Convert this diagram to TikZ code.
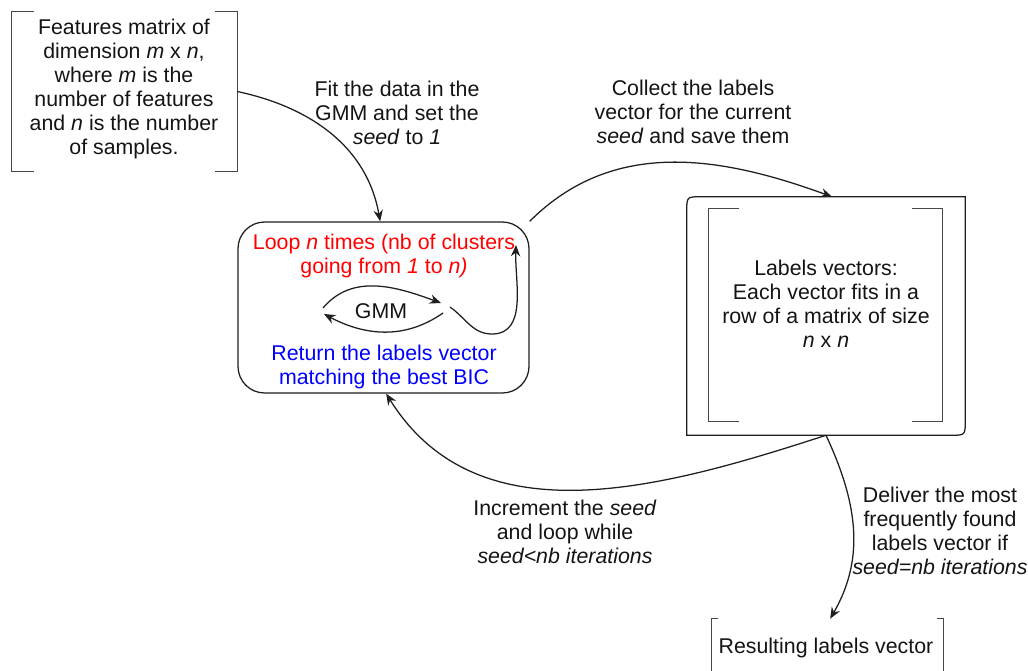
\documentclass[tikz,border=0pt]{standalone}
\usepackage{fontspec}
\setmainfont{Liberation Sans}
\usetikzlibrary{arrows.meta,fit}
\begin{document}
\begin{tikzpicture}[x=0.75pt,y=0.75pt,
  txt/.style={font=\fontsize{16}{18}\selectfont, align=center, inner sep=0pt, text=black!92},
  arr/.style={-{Stealth[length=8.5pt,width=7pt]}, line width=0.95pt, draw=black!88},
  brk/.style={line width=1pt, draw=black!72},
  area/.style={inner sep=0pt}]
\useasboundingbox (0,0) rectangle (1028,-671);

% Features matrix
\node[area, fit={(12,-12)(237,-171)}] (f) {};
\node[txt] (ftext) at (124,-89) {Features matrix of\\dimension \textit{m} x \textit{n},\\where \textit{m} is the\\number of features\\and \textit{n} is the number\\of samples.};
\draw[brk] ([xshift=17pt]f.north west) -- (f.north west) -- (f.south west) -- ([xshift=17pt]f.south west);
\draw[brk] ([xshift=-17pt]f.north east) -- (f.north east) -- (f.south east) -- ([xshift=-17pt]f.south east);

% Loop box
\node[area, fit={(238,-222)(529,-393)}, draw, rounded corners=20pt, line width=0.95pt, draw=black!88] (loop) {};
\node[txt, text=red] (lt) at (384,-256) {Loop \textit{n} times (nb of clusters\\going from \textit{1} to \textit{n)}};
\node[txt] (gmm) at (381,-311) {GMM};
\node[txt, text=blue] (rt) at (384,-367) {Return the labels vector\\matching the best BIC};
\coordinate (gA) at (323,-308);
\coordinate (gB) at (441,-303);
\coordinate (gC) at (443,-313);
\coordinate (gD) at (324,-314);
\coordinate (s0) at (450,-307);
\coordinate (s2) at (516,-245);
\draw[arr] (gA) to[out=50,in=160] (gB);
\draw[arr] (gC) to[out=-145,in=-28] (gD);
\draw[arr] (s0) to[out=-35,in=180] (492,-334) to[out=0,in=-92] (s2);

% Labels vectors box
\node[area, fit={(687,-197)(965,-435)}] (lv) {};
\draw[line width=0.95pt, draw=black!88] (lv.south west) -- ([yshift=-11pt]lv.north west) .. controls (lv.north west) .. ([xshift=11pt]lv.north west) -- (lv.north east) -- ([yshift=11pt]lv.south east) .. controls (lv.south east) .. ([xshift=-11pt]lv.south east) -- cycle;
\node[area, fit={(709,-209)(942,-421)}] (lvb) {};
\draw[brk] ([xshift=23pt]lvb.north west) -- (lvb.north west) -- (lvb.south west) -- ([xshift=23pt]lvb.south west);
\draw[brk] ([xshift=-23pt]lvb.north east) -- (lvb.north east) -- (lvb.south east) -- ([xshift=-23pt]lvb.south east);
\node[txt] (lvtext) at (826,-304) {Labels vectors:\\Each vector fits in a\\row of a matrix of size\\\textit{n} x \textit{n}};

% Result
\node[area, fit={(712,-619)(943,-675)}] (res) {};
\draw[brk] ([xshift=5pt]res.north west) -- (res.north west) -- (res.south west);
\draw[brk] ([xshift=-5pt]res.north east) -- (res.north east) -- (res.south east);
\node[txt] (restext) at (826,-648) {Resulting labels vector};

% Connector labels
\node[txt] (lfit) at (397,-113) {Fit the data in the\\GMM and set the\\\textit{seed} to \textit{1}};
\node[txt] (lcol) at (693,-112) {Collect the labels\\vector for the current\\\textit{seed} and save them};
\node[txt] (linc) at (565,-532) {Increment the \textit{seed}\\and loop while\\\textit{seed<nb iterations}};
\node[txt] (ldel) at (940,-531) {Deliver the most\\frequently found\\labels vector if\\\textit{seed=nb iterations}};

% Connectors
\draw[arr] (f.east) to[out=-12,in=100] ([xshift=-2.5pt]loop.north);
\draw[arr] (loop.north east) to[out=45,in=160] ([xshift=4.5pt]lv.north);
\draw[arr] (lv.south) to[out=-162,in=-58] ([xshift=2pt]loop.south);
\draw[arr] (lv.south) to[out=-65,in=60] ([xshift=2pt]res.north);
\end{tikzpicture}
\end{document}
